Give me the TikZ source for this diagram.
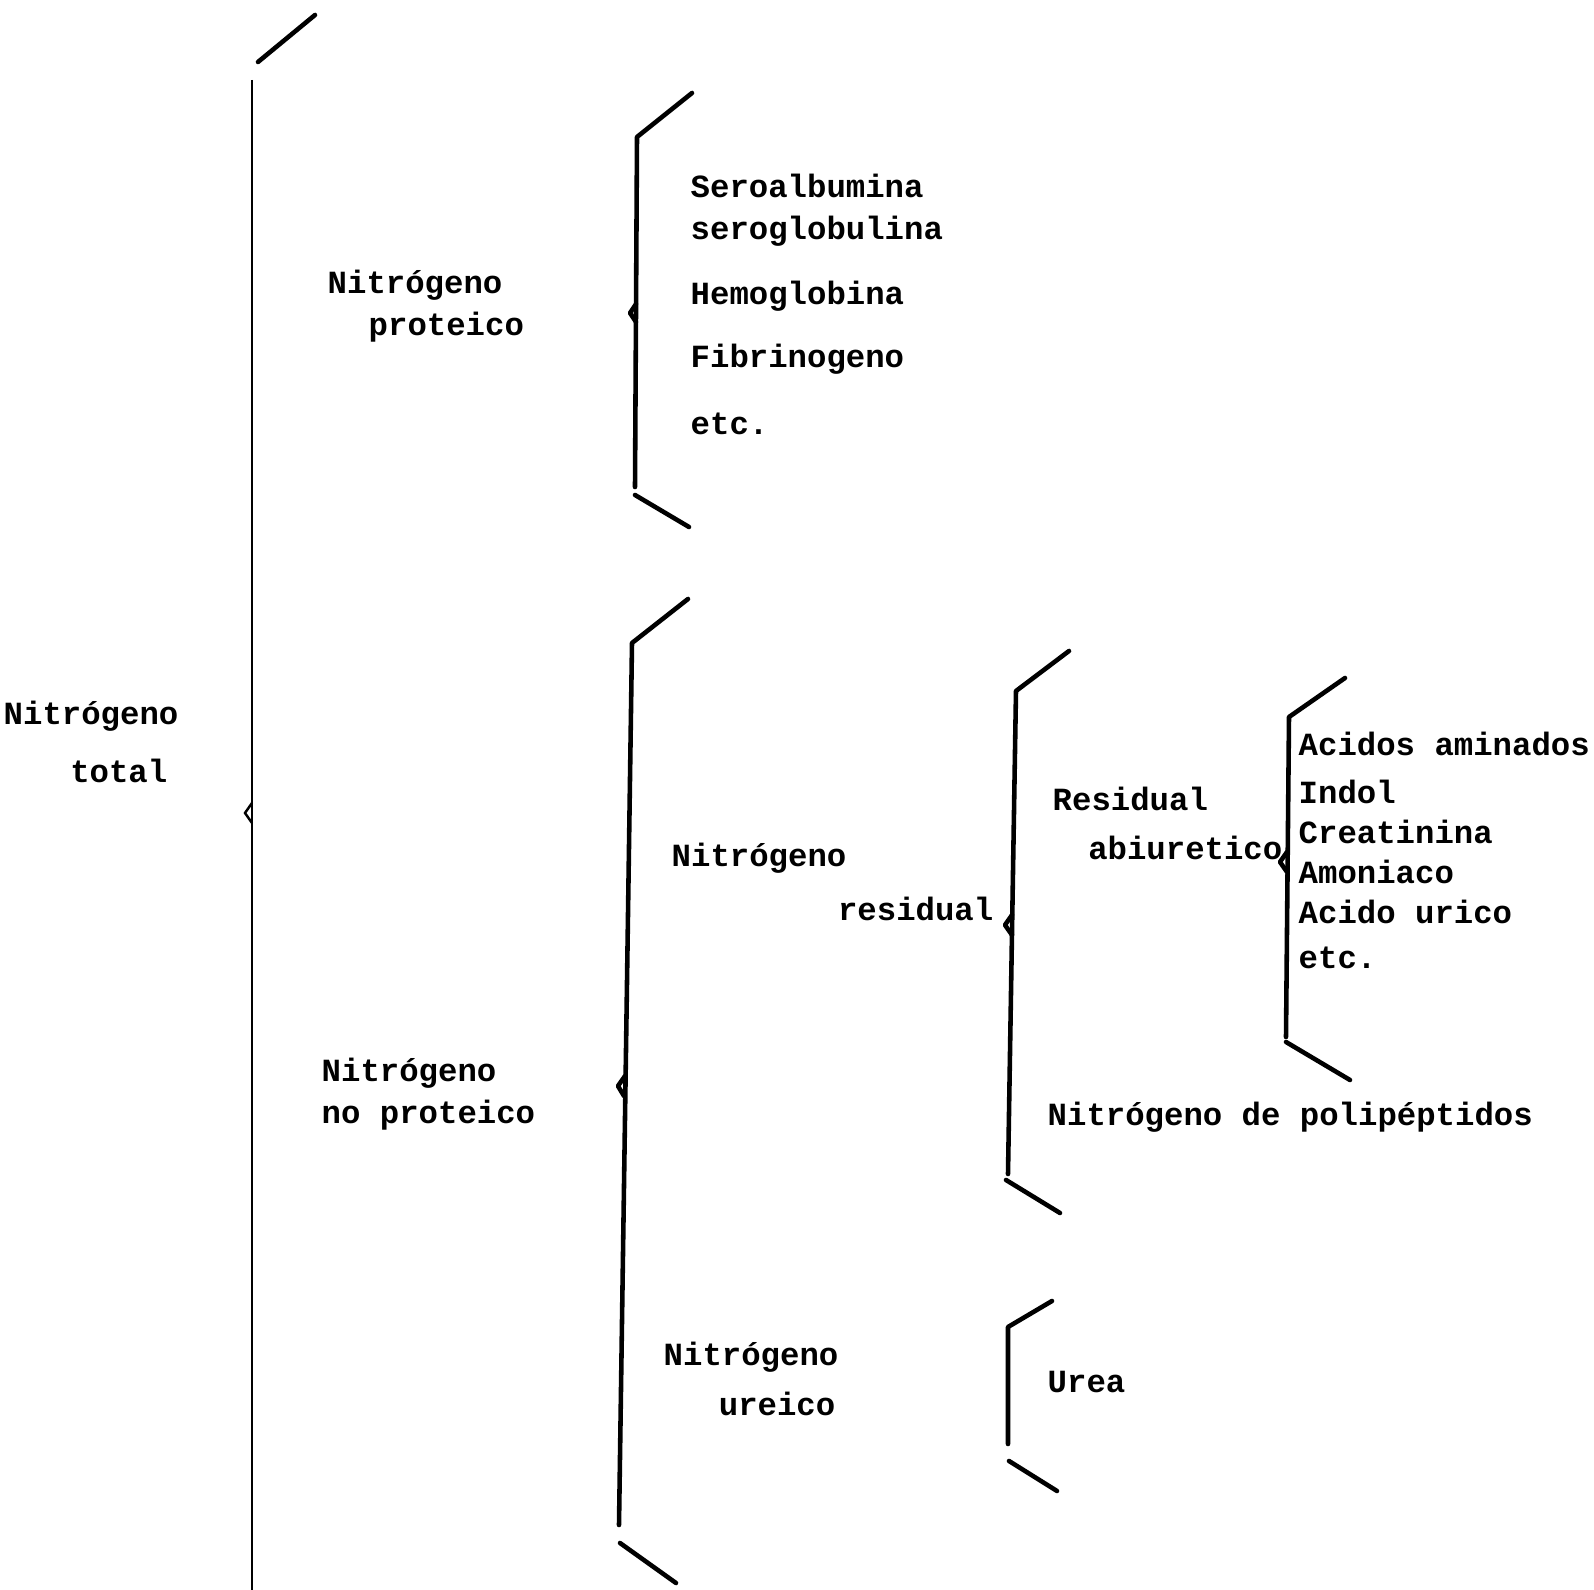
\documentclass[tikz,border=0pt]{standalone}
\usepackage{fontspec}
\setmainfont{Liberation Mono}
\usetikzlibrary{positioning}

\begin{document}
\begin{tikzpicture}[x=0.1mm,y=-0.1mm,inner sep=0pt,
	font=\fontsize{9.2}{11}\selectfont\bfseries,
	brace/.style={line width=1.3pt,line cap=round,line join=round},
	txt/.style={anchor=base west},
	txtr/.style={anchor=base east}]
	\useasboundingbox (0,0) rectangle (1594,1590);

	% Nitrogeno total
	\draw (3,725) node[txt](tot1){Nitrógeno};
	\draw (168,783) node[txtr](tot2){total};
	\draw[brace] (258,62) -- (315,15);
	\draw[line width=0.7pt] (252,80) -- (252,1600);
	\draw[line width=0.7pt] (252,803) -- (245,813) -- (252,823);

	% Nitrogeno proteico
	\draw (327,294) node[txt](prot1){Nitrógeno};
	\draw (368,336) node[txt](prot2){proteico};
	\draw[brace] (692,93) -- (637,137) -- (635,487);
	\draw[brace] (635,495) -- (689,527);
	\draw[brace] (636,304) -- (630,313) -- (636,322);
	\foreach \t/\y [count=\i] in {Seroalbumina/198,seroglobulina/240,Hemoglobina/305,Fibrinogeno/368,etc./435}
		\node[txt] (protx\i) at (690,\y) {\t};

	% Nitrogeno no proteico
	\draw (321,1082) node[txt](noprot1){Nitrógeno};
	\draw (321,1124) node[txt](noprot2){no proteico};
	\draw[brace] (688,599) -- (632,643) -- (619,1525);
	\draw[brace] (620,1543) -- (676,1583);
	\draw[brace] (625,1076) -- (618,1086) -- (624,1096);

	% Nitrogeno residual
	\draw (671,867) node[txt](res1){Nitrógeno};
	\draw (994,921) node[txtr](res2){residual};
	\draw[brace] (1069,651) -- (1016,691) -- (1008,1174);
	\draw[brace] (1006,1180) -- (1060,1213);
	\draw[brace] (1012,915) -- (1005,925) -- (1012,935);

	% Residual abiuretico
	\draw (1052,811) node[txt](abi1){Residual};
	\draw (1283,860) node[txtr](abi2){abiuretico};
	\draw[brace] (1345,678) -- (1289,717) -- (1286,1037);
	\draw[brace] (1286,1042) -- (1350,1080);
	\draw[brace] (1287,852) -- (1280,862) -- (1287,872);
	\foreach \t/\y [count=\i] in {Acidos aminados/756,Indol/804,Creatinina/844,Amoniaco/884,Acido urico/924,etc./969}
		\node[txt] (abix\i) at (1298,\y) {\t};

	\draw (1047,1126) node[txt](polip){Nitrógeno de polipéptidos};

	% Nitrogeno ureico
	\draw (663,1366) node[txt](urei1){Nitrógeno};
	\draw (836,1416) node[txtr](urei2){ureico};
	\draw[brace] (1052,1301) -- (1008,1327) -- (1008,1444);
	\draw[brace] (1009,1461) -- (1057,1491);
	\draw (1047,1393) node[txt](urea){Urea};
\end{tikzpicture}
\end{document}
